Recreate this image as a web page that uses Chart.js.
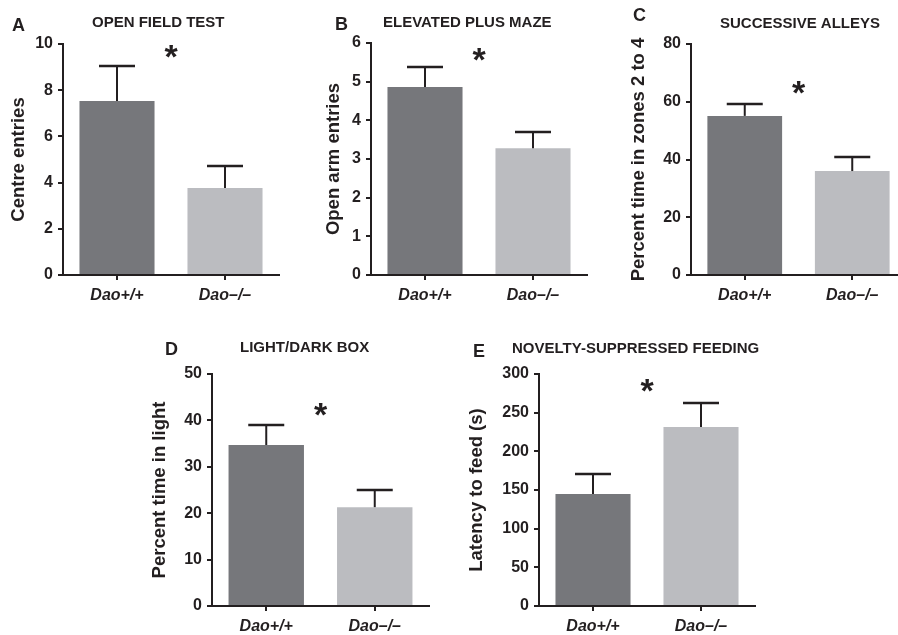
<!DOCTYPE html>
<html>
<head>
<meta charset="utf-8">
<script src="https://cdn.jsdelivr.net/npm/chart.js@4.4.1/dist/chart.umd.min.js"></script>
<style>
  html, body { margin: 0; padding: 0; background: #fff; overflow: hidden; }
  body { width: 898px; height: 635px; position: relative; }
  canvas { position: absolute; }
</style>
</head>
<body>
<canvas id="panel-a"></canvas>
<canvas id="panel-b"></canvas>
<canvas id="panel-c"></canvas>
<canvas id="panel-d"></canvas>
<canvas id="panel-e"></canvas>
<script>
// Genotype groups shared by every panel
const groups = ['Dao+/+', 'Dao\u2013/\u2013'];
const barColors = ['#76777b', '#bbbcc0'];
const ink = '#231f20';

// A - open field test
const openFieldMeans = [7.53, 3.77];
const openFieldSem = [1.52, 0.95];
// B - elevated plus maze
const plusMazeMeans = [4.86, 3.28];
const plusMazeSem = [0.52, 0.42];
// C - successive alleys
const alleysMeans = [55.1, 36.0];
const alleysSem = [4.1, 4.9];
// D - light/dark box
const lightDarkMeans = [34.7, 21.3];
const lightDarkSem = [4.3, 3.7];
// E - novelty-suppressed feeding
const noveltyMeans = [144.8, 231.5];
const noveltySem = [25.9, 31.0];

// y ranges (max, step) and height of the significance star
const yMaxes = [10, 6, 80, 50, 300];
const ySteps = [2, 1, 20, 10, 50];
const starLevels = [9.78, 5.77, 65.8, 42.9, 288];

// error bars, star, panel letter and title
const panelExtras = {
    id: 'panelExtras',
    afterDatasetsDraw(chart, args, o) {
        const ctx = chart.ctx;
        const xs = chart.scales.x;
        const ys = chart.scales.y;
        const meta = chart.getDatasetMeta(0);
        ctx.save();
        ctx.strokeStyle = ink;
        meta.data.forEach((bar, i) => {
            const top = ys.getPixelForValue(o.means[i] + o.sem[i]);
            ctx.lineWidth = 2;
            ctx.beginPath();
            ctx.moveTo(bar.x, bar.y);
            ctx.lineTo(bar.x, top);
            ctx.stroke();
            ctx.lineWidth = 2.5;
            ctx.beginPath();
            ctx.moveTo(bar.x - 18, top);
            ctx.lineTo(bar.x + 18, top);
            ctx.stroke();
        });

        ctx.fillStyle = ink;
        ctx.textBaseline = 'alphabetic';
        // star between the two bars
        const sx = (xs.getPixelForValue(0) + xs.getPixelForValue(1)) / 2;
        const sy = ys.getPixelForValue(o.star);
        ctx.font = 'bold 34px "Liberation Sans", Arial, sans-serif';
        ctx.textAlign = 'center';
        ctx.fillText('*', sx, sy + 19);

        ctx.textAlign = 'left';
        ctx.font = 'bold 18px "Liberation Sans", Arial, sans-serif';
        ctx.fillText(o.letter, o.letterAt[0], o.letterAt[1]);
        ctx.font = 'bold 15px "Liberation Sans", Arial, sans-serif';
        ctx.fillText(o.title, o.titleAt[0], o.titleAt[1]);
        ctx.restore();
    }
};

function makePanel(id, box, area, cfg) {
    const el = document.getElementById(id);
    el.width = box.w;
    el.height = box.h;
    el.style.left = box.left + 'px';
    el.style.top = box.top + 'px';
    const yWidth = area.l - box.left;
    const xHeight = box.h - (area.b - box.top);
    return new Chart(el.getContext('2d'), {
        type: 'bar',
        data: {
            labels: groups,
            datasets: [{
                data: cfg.means,
                backgroundColor: barColors,
                borderWidth: 0,
                categoryPercentage: 1,
                barPercentage: 0.695
            }]
        },
        options: {
            responsive: false,
            animation: false,
            layout: {
                padding: { left: 0, top: area.t - box.top, right: box.w - (area.r - box.left), bottom: 0 }
            },
            plugins: {
                legend: { display: false },
                tooltip: { enabled: false },
                panelExtras: {
                    means: cfg.means,
                    sem: cfg.sem,
                    star: cfg.star,
                    letter: cfg.letter,
                    title: cfg.title,
                    letterAt: [cfg.letterAt[0] - box.left, cfg.letterAt[1] - box.top],
                    titleAt: [cfg.titleAt[0] - box.left, cfg.titleAt[1] - box.top]
                }
            },
            scales: {
                x: {
                    afterFit: s => { s.height = xHeight; },
                    border: { display: true, color: ink, width: 2 },
                    grid: { drawOnChartArea: false, offset: false, color: ink, lineWidth: 2, tickLength: 5 },
                    ticks: {
                        color: ink,
                        padding: 6,
                        font: { family: '"Liberation Sans", Arial, sans-serif', size: 16, weight: 'bold', style: 'italic' }
                    }
                },
                y: {
                    min: 0,
                    max: cfg.max,
                    afterFit: s => { s.width = yWidth; },
                    border: { display: true, color: ink, width: 2 },
                    grid: { drawOnChartArea: false, color: ink, lineWidth: 2, tickLength: 5 },
                    ticks: {
                        stepSize: cfg.step,
                        color: ink,
                        padding: 5,
                        font: { family: '"Liberation Sans", Arial, sans-serif', size: 16, weight: 'bold' }
                    },
                    title: {
                        display: true,
                        text: cfg.yTitle,
                        color: ink,
                        padding: { top: 8, bottom: 0 },
                        font: { family: '"Liberation Sans", Arial, sans-serif', size: 18.5, weight: 'bold' }
                    }
                }
            }
        },
        plugins: [panelExtras]
    });
}

makePanel('panel-a', { left: 0, top: 0, w: 290, h: 312 }, { l: 63, t: 44, r: 279, b: 275 }, {
    means: openFieldMeans, sem: openFieldSem, max: yMaxes[0], step: ySteps[0], star: starLevels[0],
    yTitle: 'Centre entries', letter: 'A', title: 'OPEN FIELD TEST',
    letterAt: [12, 31], titleAt: [92, 27]
});

makePanel('panel-b', { left: 315, top: 0, w: 277, h: 312 }, { l: 371, t: 43, r: 587, b: 275 }, {
    means: plusMazeMeans, sem: plusMazeSem, max: yMaxes[1], step: ySteps[1], star: starLevels[1],
    yTitle: 'Open arm entries', letter: 'B', title: 'ELEVATED PLUS MAZE',
    letterAt: [335, 30], titleAt: [383, 27]
});

makePanel('panel-c', { left: 620, top: 0, w: 290, h: 312 }, { l: 691, t: 44, r: 906, b: 275 }, {
    means: alleysMeans, sem: alleysSem, max: yMaxes[2], step: ySteps[2], star: starLevels[2],
    yTitle: 'Percent time in zones 2 to 4', letter: 'C', title: 'SUCCESSIVE ALLEYS',
    letterAt: [633, 21], titleAt: [720, 28]
});

makePanel('panel-d', { left: 141, top: 320, w: 295, h: 315 }, { l: 212, t: 374, r: 429, b: 606 }, {
    means: lightDarkMeans, sem: lightDarkSem, max: yMaxes[3], step: ySteps[3], star: starLevels[3],
    yTitle: 'Percent time in light', letter: 'D', title: 'LIGHT/DARK BOX',
    letterAt: [165, 355], titleAt: [240, 352]
});

makePanel('panel-e', { left: 458, top: 320, w: 310, h: 315 }, { l: 539, t: 374, r: 755, b: 606 }, {
    means: noveltyMeans, sem: noveltySem, max: yMaxes[4], step: ySteps[4], star: starLevels[4],
    yTitle: 'Latency to feed (s)', letter: 'E', title: 'NOVELTY-SUPPRESSED FEEDING',
    letterAt: [473, 357], titleAt: [512, 353]
});
</script>
</body>
</html>
